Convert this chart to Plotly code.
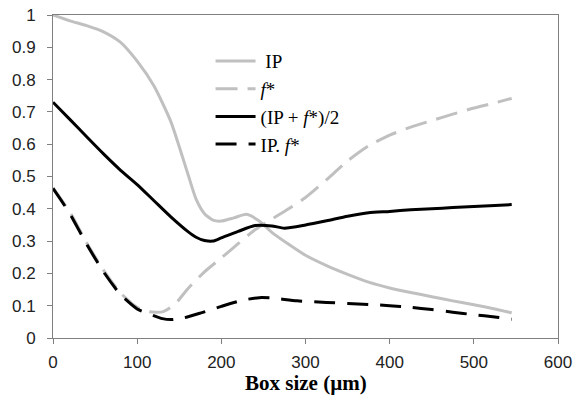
import plotly.graph_objects as go

# ---- data ----
x_ip = [0, 20, 40, 60, 80, 100, 120, 140, 160, 170, 180, 190, 200, 215, 230, 245, 260, 280, 300, 325, 350, 375, 400, 425, 450, 475, 500, 525, 545]
ip   = [1.0, 0.982, 0.967, 0.948, 0.916, 0.857, 0.78, 0.67, 0.51, 0.43, 0.385, 0.365, 0.362, 0.372, 0.383, 0.362, 0.327, 0.29, 0.256, 0.224, 0.197, 0.173, 0.155, 0.141, 0.128, 0.115, 0.103, 0.090, 0.078]

x_f = [0, 20, 40, 60, 80, 100, 115, 130, 145, 160, 180, 200, 220, 240, 260, 280, 300, 325, 350, 375, 400, 425, 450, 475, 500, 525, 545]
fstar = [0.465, 0.39, 0.295, 0.21, 0.14, 0.095, 0.081, 0.081, 0.105, 0.152, 0.205, 0.248, 0.292, 0.335, 0.368, 0.40, 0.435, 0.49, 0.548, 0.595, 0.628, 0.653, 0.673, 0.693, 0.712, 0.728, 0.742]

x_avg = [0, 20, 40, 60, 80, 100, 120, 140, 160, 170, 180, 190, 200, 220, 240, 260, 275, 300, 325, 350, 375, 400, 425, 450, 475, 500, 525, 545]
avg   = [0.73, 0.677, 0.623, 0.57, 0.52, 0.475, 0.425, 0.375, 0.33, 0.312, 0.302, 0.30, 0.31, 0.33, 0.348, 0.347, 0.34, 0.35, 0.363, 0.377, 0.388, 0.392, 0.397, 0.40, 0.404, 0.407, 0.410, 0.413]

x_prod = [0, 20, 40, 60, 80, 100, 115, 130, 140, 155, 175, 200, 225, 245, 260, 290, 325, 350, 375, 400, 425, 450, 475, 500, 525, 545]
prod   = [0.463, 0.385, 0.29, 0.205, 0.135, 0.09, 0.074, 0.06, 0.057, 0.062, 0.077, 0.098, 0.117, 0.125, 0.124, 0.115, 0.11, 0.107, 0.104, 0.10, 0.095, 0.088, 0.08, 0.072, 0.065, 0.058]

names = ["&nbsp;IP", "<i>f</i>*", "(IP + <i>f</i>*)/2", "IP. <i>f</i>*"]
x_title = "<b>Box size (µm)</b>"

x_ticks = [0, 100, 200, 300, 400, 500, 600]
y_ticks = [0, 0.1, 0.2, 0.3, 0.4, 0.5, 0.6, 0.7, 0.8, 0.9, 1]
y_tick_text = ["0", "0.1", "0.2", "0.3", "0.4", "0.5", "0.6", "0.7", "0.8", "0.9", "1"]

GRAY = "#c0c0c0"
BLACK = "#000000"

fig = go.Figure()
fig.add_trace(go.Scatter(x=x_ip, y=ip, mode="lines", name=names[0],
                         line=dict(color=GRAY, width=3, shape="spline", smoothing=0.6)))
fig.add_trace(go.Scatter(x=x_f, y=fstar, mode="lines", name=names[1],
                         line=dict(color=GRAY, width=3, dash="22px,10px", shape="spline", smoothing=0.6)))
fig.add_trace(go.Scatter(x=x_avg, y=avg, mode="lines", name=names[2],
                         line=dict(color=BLACK, width=3, shape="spline", smoothing=0.6)))
fig.add_trace(go.Scatter(x=x_prod, y=prod, mode="lines", name=names[3],
                         line=dict(color=BLACK, width=3, dash="21px,12px", shape="spline", smoothing=0.6)))

axis_common = dict(showgrid=False, zeroline=False, showline=True, linecolor="#808080",
                   linewidth=1, mirror=True, ticks="outside", ticklen=5, tickcolor="#808080",
                   automargin=False,
                   tickfont=dict(family="Liberation Sans, Arial", size=17, color="#222222"))

fig.update_layout(
    width=575, height=398,
    margin=dict(l=53, r=17, t=15, b=60),
    paper_bgcolor="white", plot_bgcolor="white",
    showlegend=True,
    legend=dict(x=0.312, y=0.916, xanchor="left", yanchor="top",
                bgcolor="rgba(0,0,0,0)", tracegroupgap=0, itemwidth=40,
                font=dict(family="Liberation Serif, Times New Roman", size=19, color="#000000")),
    xaxis=dict(range=[0, 600], tickvals=x_ticks, ticklabelstandoff=4, **axis_common),
    yaxis=dict(range=[0, 1], tickvals=y_ticks, ticktext=y_tick_text, ticklabelstandoff=8,
               **axis_common),
    annotations=[dict(text=x_title, xref="paper", yref="paper", x=0.5, y=-0.139,
                      xanchor="center", yanchor="middle", showarrow=False,
                      font=dict(family="Liberation Serif, Times New Roman", size=21, color="#000000"))],
)

fig.write_html("out.html")
